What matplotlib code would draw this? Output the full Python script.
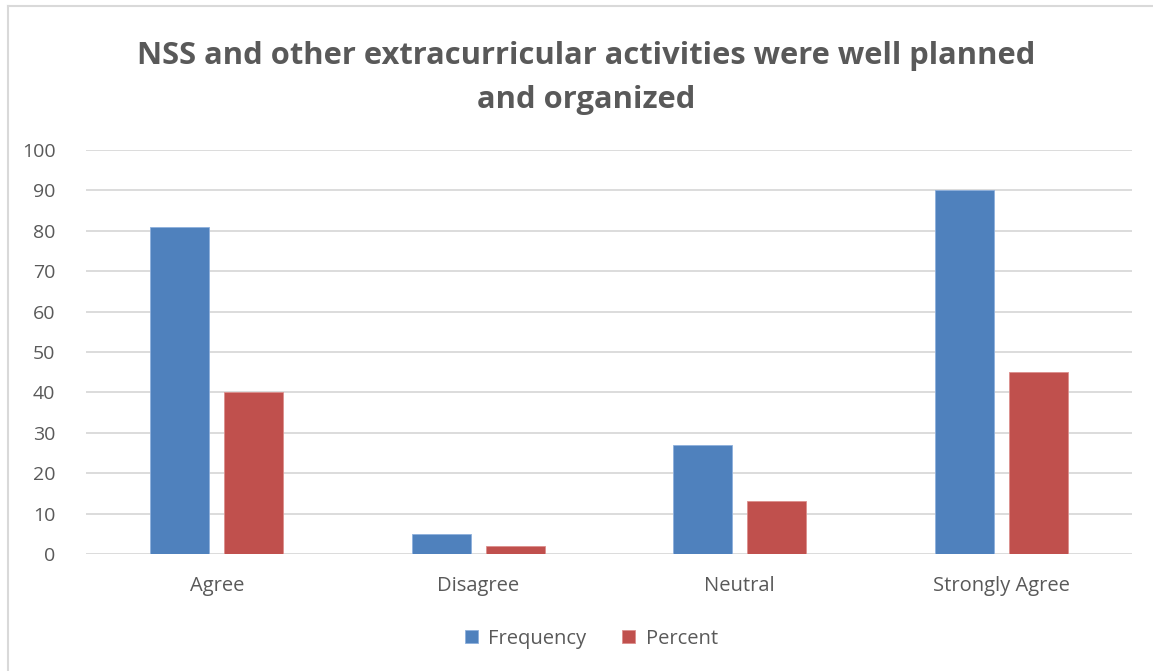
import matplotlib
matplotlib.use('Agg')
import matplotlib.pyplot as plt
from matplotlib.lines import Line2D
import numpy as np

categories = ['Agree', 'Disagree', 'Neutral', 'Strongly Agree']
frequency = [81, 5, 27, 90]
percent = [40, 2, 13, 45]
yticks = list(range(0, 101, 10))

plt.rcParams['font.family'] = ['Open Sans', 'DejaVu Sans']
text_col = '#595959'

fig = plt.figure(figsize=(11.53, 6.71), dpi=100)
ax = fig.add_axes([86 / 1153, 117 / 671, 1046 / 1153, 404 / 671])

x = np.arange(len(categories))
w = 0.226
off = 0.142
ax.bar(x - off, frequency, w, color='#4f81bd', edgecolor='#8eb0dc', linewidth=0.6,
       label='Frequency', zorder=3)
ax.bar(x + off, percent, w, color='#c0504d', edgecolor='#dc8e8c', linewidth=0.6,
       label='Percent', zorder=3)

ax.set_xlim(-0.5, len(categories) - 0.5)
ax.set_ylim(0, 100)
ax.set_yticks(yticks)
ax.set_xticks(x)
ax.set_xticklabels(categories)
ax.yaxis.grid(True, color='#d9d9d9', linewidth=1.3, zorder=0)
for s in ax.spines.values():
    s.set_visible(False)
ax.tick_params(axis='both', length=0, labelcolor=text_col)
ax.tick_params(axis='x', pad=16, labelsize=14.5)
ax.tick_params(axis='y', pad=22, labelsize=14)

fig.text(0.508, 0.884, 'NSS and other extracurricular activities were well planned\nand organized',
         ha='center', va='center', fontsize=22.2, fontweight='bold', color=text_col,
         linespacing=1.6)

ax.legend(loc='center', bbox_to_anchor=(0.483, -0.21), ncol=2, frameon=False,
          fontsize=14.5, labelcolor=text_col, handlelength=0.65, handleheight=0.65,
          columnspacing=1.8, handletextpad=0.5)

# light frame round the chart (left and top edges visible)
fig.add_artist(Line2D([8 / 1153, 8 / 1153], [0, 1 - 6 / 671], color='#d9d9d9', linewidth=1.5,
                      transform=fig.transFigure))
fig.add_artist(Line2D([8 / 1153, 1], [1 - 6 / 671, 1 - 6 / 671], color='#d9d9d9', linewidth=1.5,
                      transform=fig.transFigure))

fig.savefig('out.png', dpi=100, facecolor='white')
